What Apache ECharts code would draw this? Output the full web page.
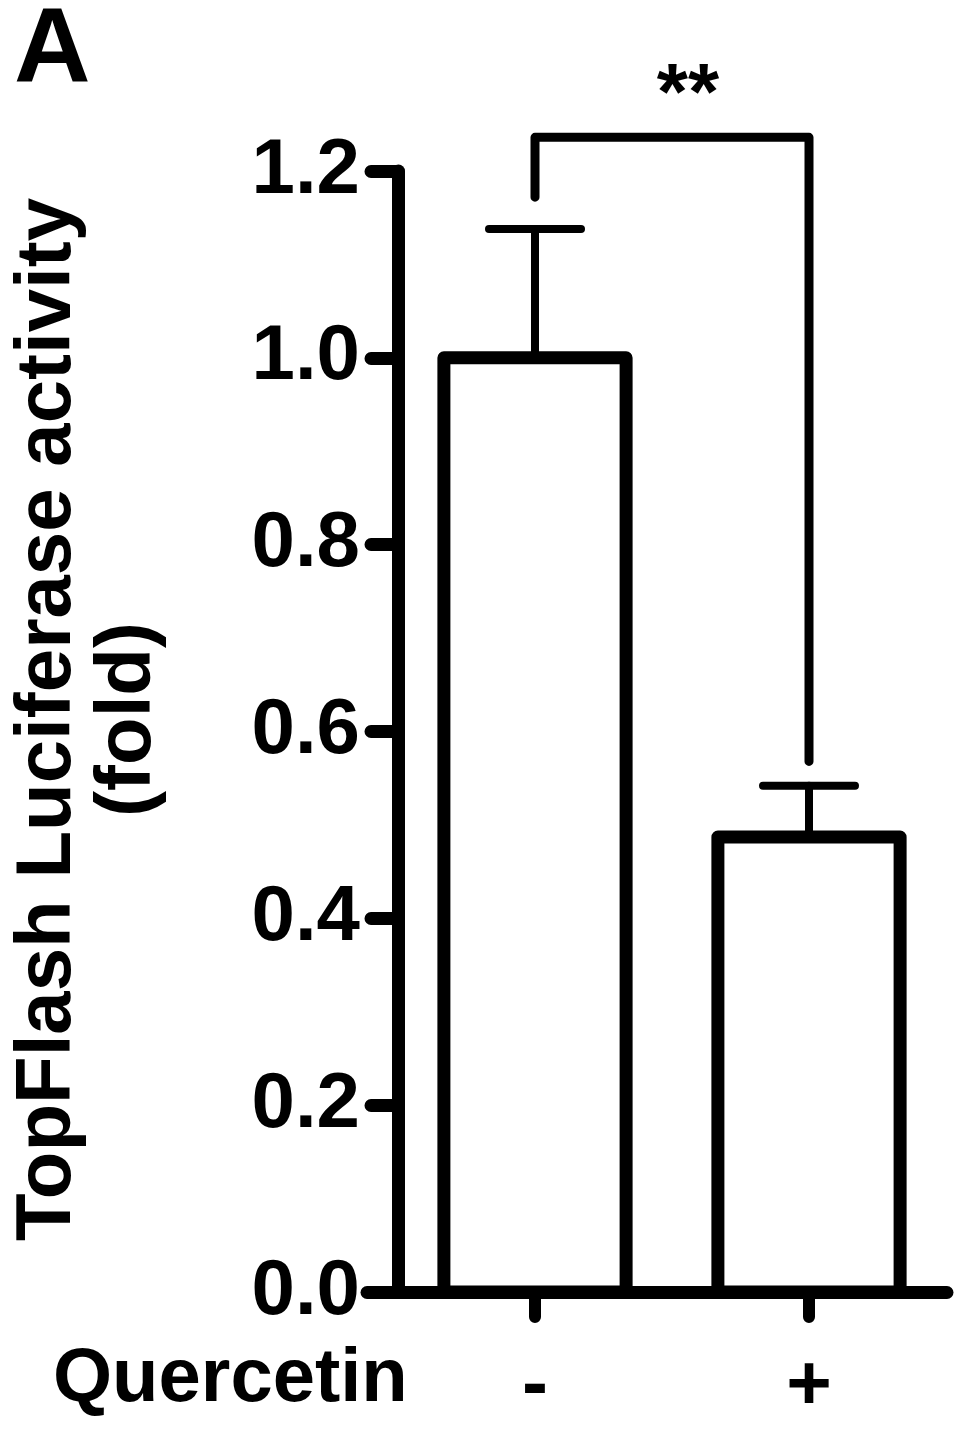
<!DOCTYPE html>
<html>
<head>
<meta charset="utf-8">
<script src="https://cdn.jsdelivr.net/npm/echarts@6/dist/echarts.min.js"></script>
<style>
  html, body { margin: 0; padding: 0; background: #fff; }
  #chart { width: 969px; height: 1436px; }
</style>
</head>
<body>
<div id="chart"></div>
<script>
// ---- data ----
const categories = ['-', '+'];
const means = [1.0, 0.487];
const errUpper = [1.138, 0.542];
const yTickMin = 0, yTickMax = 1.2, yTickStep = 0.2;
// significance bracket: from category, to category, top level, left end, right end
const bracketFrom = [0];
const bracketTo = [1];
const bracketTop = [1.236];
const bracketLeftEnd = [1.172];
const bracketRightEnd = [0.568];
const bracketLabel = ['**'];
const panelLetter = 'A';
const yTitle = 'TopFlash Luciferase activity\n(fold)';
const xGroupTitle = 'Quercetin';

const FONT = '"Liberation Sans", Arial, Helvetica, sans-serif';
const chart = echarts.init(document.getElementById('chart'), null, { renderer: 'canvas' });

const option = {
  backgroundColor: '#ffffff',
  animation: false,
  grid: [
    { left: 395, right: 23, top: 171, bottom: 144 },
    { left: 367, right: 22, top: 171, bottom: 144 }
  ],
  xAxis: [
    {
      type: 'category', gridIndex: 0, data: categories,
      axisLine: { show: false },
      axisTick: { show: true, alignWithLabel: true, length: 25, lineStyle: { color: '#000', width: 12, cap: 'round' } },
      axisLabel: { show: true, margin: 56, color: '#000', fontFamily: FONT, fontWeight: 'bold', fontSize: 78, lineHeight: 78 },
      splitLine: { show: false }
    },
    {
      type: 'value', gridIndex: 1, min: 0, max: 1,
      axisLine: { show: true, lineStyle: { color: '#000', width: 13, cap: 'round' } },
      axisTick: { show: false }, axisLabel: { show: false }, splitLine: { show: false }
    }
  ],
  yAxis: [
    {
      type: 'value', gridIndex: 0, min: yTickMin, max: yTickMax, interval: yTickStep,
      axisLine: { show: true, lineStyle: { color: '#000', width: 13, cap: 'round' } },
      axisTick: { show: true, length: 27, lineStyle: { color: '#000', width: 13, cap: 'round' } },
      axisLabel: { margin: 38, color: '#000', fontFamily: FONT, fontWeight: 'bold', fontSize: 78,
        formatter: v => v.toFixed(1) },
      splitLine: { show: false },
      name: yTitle, nameLocation: 'middle', nameRotate: 90, nameGap: 230,
      nameTextStyle: { color: '#000', fontFamily: FONT, fontWeight: 'bold', fontSize: 78, lineHeight: 80, align: 'center', padding: [0, 0, 0, 24] }
    },
    { type: 'value', gridIndex: 1, show: false, min: 0, max: 1 }
  ],
  graphic: [
    { type: 'text', left: 14, top: 0, style: { text: panelLetter, fill: '#000', font: 'bold 106px ' + FONT } },
    { type: 'text', left: 53, top: 1342, style: { text: xGroupTitle, fill: '#000', font: 'bold 76px ' + FONT } }
  ],
  series: [
    {
      // open bars: white fill, thick black outline centred on the value line
      type: 'custom', xAxisIndex: 0, yAxisIndex: 0, z: 2,
      data: categories.map((c, i) => [i, means[i]]),
      renderItem: function (params, api) {
        const x = api.value(0);
        const top = api.coord([x, api.value(1)]);
        const bottom = api.coord([x, 0]);
        const w = api.size([1, 0])[0] * 0.665;
        return {
          type: 'rect',
          shape: { x: top[0] - w / 2, y: top[1], width: w, height: bottom[1] - top[1] },
          style: { fill: '#fff', stroke: '#000', lineWidth: 13, lineJoin: 'round' }
        };
      }
    },
    {
      type: 'custom', xAxisIndex: 0, yAxisIndex: 0, z: 3,
      data: categories.map((c, i) => [i, means[i], errUpper[i]]),
      renderItem: function (params, api) {
        const x = api.value(0);
        const base = api.coord([x, api.value(1)]);
        const top = api.coord([x, api.value(2)]);
        const half = 46;
        return {
          type: 'group',
          children: [
            { type: 'line', shape: { x1: base[0], y1: base[1], x2: top[0], y2: top[1] }, style: { stroke: '#000', lineWidth: 8, lineCap: 'round' } },
            { type: 'line', shape: { x1: top[0] - half, y1: top[1], x2: top[0] + half, y2: top[1] }, style: { stroke: '#000', lineWidth: 8, lineCap: 'round' } }
          ]
        };
      }
    },
    {
      type: 'custom', xAxisIndex: 0, yAxisIndex: 0, z: 3, clip: false,
      data: bracketFrom.map((f, i) => [f, bracketTo[i], bracketTop[i], bracketLeftEnd[i], bracketRightEnd[i]]),
      renderItem: function (params, api) {
        const i = params.dataIndex;
        const a = api.value(0), b = api.value(1);
        const pLeftEnd = api.coord([a, api.value(3)]);
        const pLeftTop = api.coord([a, api.value(2)]);
        const pRightTop = api.coord([b, api.value(2)]);
        const pRightEnd = api.coord([b, api.value(4)]);
        return {
          type: 'group',
          children: [
            { type: 'polyline', shape: { points: [pLeftEnd, pLeftTop, pRightTop, pRightEnd] },
              style: { stroke: '#000', fill: null, lineWidth: 9, lineCap: 'round', lineJoin: 'round' } },
            { type: 'text', x: (pLeftTop[0] + pRightTop[0]) / 2 + 16, y: pLeftTop[1] - 40,
              style: { text: bracketLabel[i], fill: '#000', font: 'bold 80px ' + FONT, align: 'center', verticalAlign: 'middle' } }
          ]
        };
      }
    }
  ]
};
chart.setOption(option);
</script>
</body>
</html>
